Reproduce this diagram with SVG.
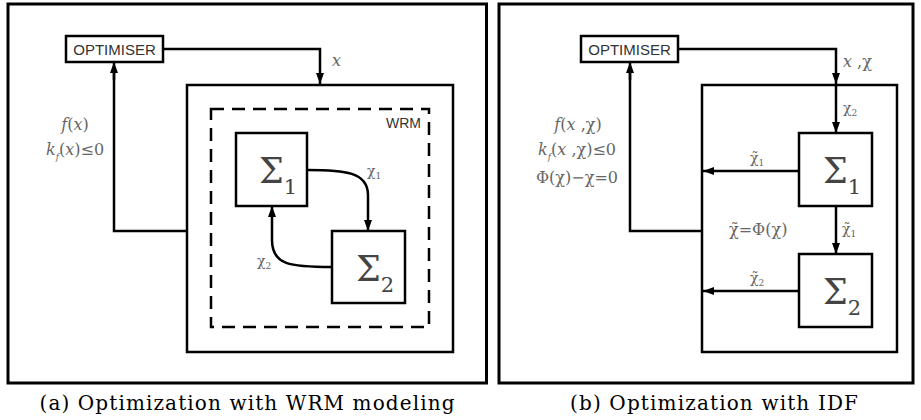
<svg xmlns="http://www.w3.org/2000/svg" width="921" height="420" viewBox="0 0 921 420">
<defs>
<marker id="ah" markerUnits="userSpaceOnUse" markerWidth="11" markerHeight="8" refX="11" refY="4" orient="auto">
<path d="M0,0 L11,4 L0,8 z" fill="#000"/>
</marker>
<style>
.frame{fill:none;stroke:#000;stroke-width:3}
.box{fill:#fff;stroke:#000;stroke-width:2.5}
.dash{fill:none;stroke:#000;stroke-width:2.5;stroke-dasharray:13 8}
.con{fill:none;stroke:#000;stroke-width:2.5}
.arr{marker-end:url(#ah)}
.opt{font-family:"Liberation Sans",Arial,sans-serif;font-size:15px;fill:#333}
.m{font-family:"DejaVu Serif","Liberation Serif",serif;font-size:16px;fill:#666}
.ms{font-family:"DejaVu Serif","Liberation Serif",serif;font-size:14px;fill:#666}
.i{font-style:italic}
.sub{font-size:9px}
.sig{font-family:"DejaVu Serif","Liberation Serif",serif;font-size:35px;fill:#444}
.sign{font-size:21px}
.cap{font-family:"DejaVu Serif","Liberation Serif",serif;font-size:20px;fill:#000}
</style>
</defs>

<g id="panel-a">
<rect class="frame" x="8" y="4" width="478.5" height="379"/>
</g>
<g id="panel-b">
<rect class="frame" x="499" y="4" width="414" height="379"/>
</g>

<g id="wrm-outer"><rect class="frame" x="187" y="85" width="266" height="267" style="stroke-width:2.5"/></g>
<g id="wrm-dashed"><rect class="dash" x="211" y="109" width="218" height="218"/>
<text class="opt" x="421" y="128" text-anchor="end" style="font-size:14px">WRM</text></g>

<g id="idf-outer"><rect class="frame" x="702" y="85" width="195" height="267" style="stroke-width:2.5"/></g>

<g id="connectors">
<path class="con arr" d="M163,49 H320 V84"/>
<path class="con" d="M187,231 H114 V70"/>
<path class="con arr" d="M114,80 V62"/>
<path class="con arr" d="M307,170 C345,170 368,172 368,195 V231"/>
<path class="con arr" d="M332,267 C290,267 272,265 272,240 V206"/>

<path class="con arr" d="M678,49 H836 V84"/>
<path class="con arr" d="M836,84 V133"/>
<path class="con arr" d="M799,171 H703"/>
<path class="con arr" d="M836,206 V254"/>
<path class="con arr" d="M799,291 H703"/>
<path class="con" d="M702,231 H630 V70"/>
<path class="con arr" d="M630,80 V62"/>
</g>

<g id="optimiser-a"><rect class="box" x="66" y="36" width="97" height="26"/>
<text class="opt" x="114.5" y="55" text-anchor="middle">OPTIMISER</text></g>
<g id="optimiser-b"><rect class="box" x="581" y="36" width="97" height="26"/>
<text class="opt" x="629.5" y="55" text-anchor="middle">OPTIMISER</text></g>

<g id="sigma1-a"><rect class="box" x="236" y="133" width="71" height="73"/>
<text class="sig" x="259" y="183">Σ<tspan class="sign" dy="11">1</tspan></text></g>
<g id="sigma2-a"><rect class="box" x="332" y="231" width="73" height="72"/>
<text class="sig" x="356" y="281">Σ<tspan class="sign" dy="11">2</tspan></text></g>
<g id="sigma1-b"><rect class="box" x="799" y="133" width="73" height="73"/>
<text class="sig" x="823" y="183">Σ<tspan class="sign" dy="11">1</tspan></text></g>
<g id="sigma2-b"><rect class="box" x="799" y="254" width="73" height="73"/>
<text class="sig" x="823" y="304">Σ<tspan class="sign" dy="11">2</tspan></text></g>

<g id="labels-a">
<text class="m i" x="332" y="66">x</text>
<text class="m" x="75" y="130" text-anchor="middle"><tspan class="i">f</tspan>(<tspan class="i">x</tspan>)</text>
<text class="m" x="75" y="155" text-anchor="middle"><tspan class="i">k</tspan><tspan class="sub i" dy="5">f</tspan><tspan dy="-5">(</tspan><tspan class="i">x</tspan>)≤0</text>
<text class="ms" x="367" y="176">χ<tspan class="sub" dy="3">1</tspan></text>
<text class="ms" x="257" y="266">χ<tspan class="sub" dy="3">2</tspan></text>
</g>

<g id="labels-b">
<text class="m" x="843" y="67"><tspan class="i">x</tspan> ,χ</text>
<text class="ms" x="843" y="113">χ<tspan class="sub" dy="3">2</tspan></text>
<text class="ms" x="750" y="163">χ̃<tspan class="sub" dy="3">1</tspan></text>
<text class="ms" x="842" y="234">χ̃<tspan class="sub" dy="3">1</tspan></text>
<text class="m" x="729" y="235">χ̃=Φ(χ)</text>
<text class="ms" x="750" y="283">χ̃<tspan class="sub" dy="3">2</tspan></text>
<text class="m" x="578" y="130" text-anchor="middle"><tspan class="i">f</tspan>(<tspan class="i">x</tspan> ,χ)</text>
<text class="m" x="577" y="155" text-anchor="middle"><tspan class="i">k</tspan><tspan class="sub i" dy="5">f</tspan><tspan dy="-5">(</tspan><tspan class="i">x</tspan> ,χ)≤0</text>
<text class="m" x="577" y="183" text-anchor="middle">Φ(χ)−χ=0</text>
</g>

<g id="captions">
<text class="cap" x="247" y="410" text-anchor="middle" textLength="415">(a) Optimization with WRM modeling</text>
<text class="cap" x="714" y="410" text-anchor="middle" textLength="288">(b) Optimization with IDF</text>
</g>
</svg>
